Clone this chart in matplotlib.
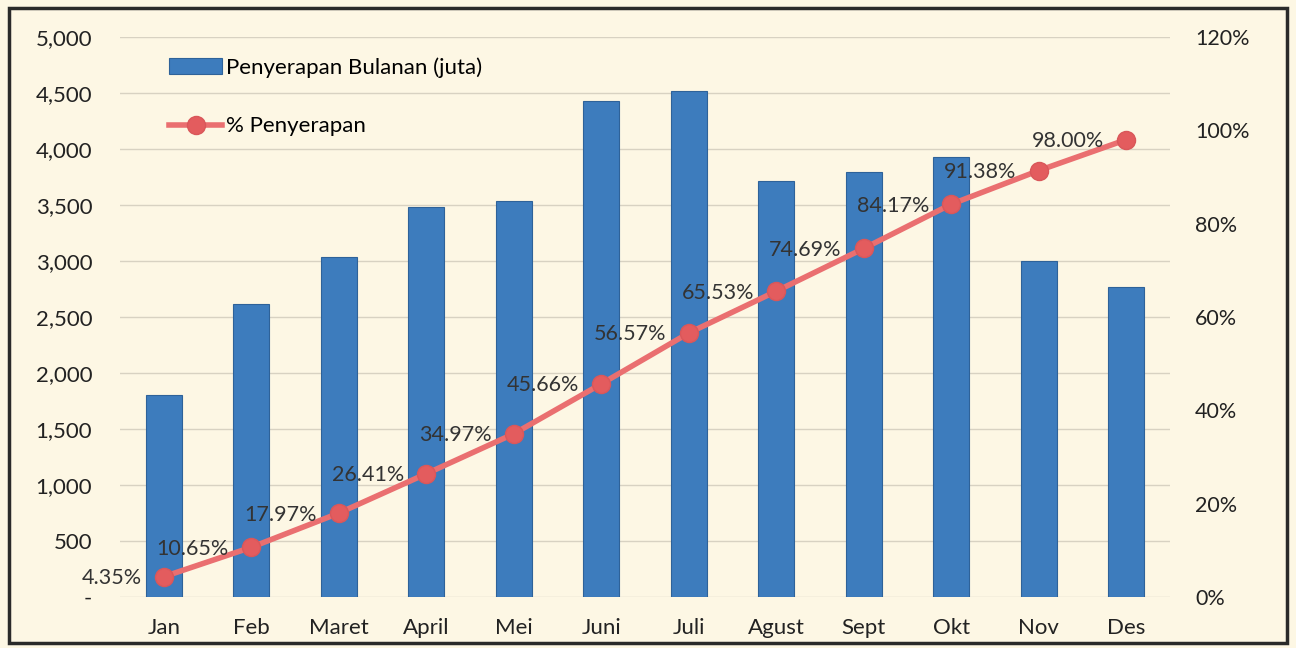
import matplotlib
matplotlib.use("Agg")
import matplotlib.pyplot as plt
from matplotlib.ticker import FuncFormatter
import numpy as np

months = ["Jan", "Feb", "Maret", "April", "Mei", "Juni", "Juli", "Agust", "Sept", "Okt", "Nov", "Des"]
monthly = [1805, 2615, 3035, 3480, 3535, 4425, 4515, 3715, 3795, 3930, 3000, 2765]
pct = [4.35, 10.65, 17.97, 26.41, 34.97, 45.66, 56.57, 65.53, 74.69, 84.17, 91.38, 98.00]
left_ticks = list(range(0, 5001, 500))
right_ticks = [0, 20, 40, 60, 80, 100, 120]

plt.rcParams['font.family'] = ['Lato', 'DejaVu Sans']
bg = "#fdf7e4"
fig = plt.figure(figsize=(12.96, 6.48), dpi=100, facecolor=bg)
ax = fig.add_axes([0.0926, 0.0787, 0.8102, 0.8642])
ax.set_facecolor(bg)
x = np.arange(len(months))
bars = ax.bar(x, monthly, width=0.41, color="#3d7cbd", edgecolor="#2e6299", linewidth=0.8,
              label="Penyerapan Bulanan (juta)", zorder=2)
ax.set_xlim(-0.5, len(months) - 0.5)
ax.set_ylim(0, 5000)
ax.set_yticks(left_ticks)
ax.yaxis.set_major_formatter(FuncFormatter(lambda v, p: "-" if v == 0 else f"{int(v):,}"))
ax.set_xticks(x)
ax.set_xticklabels(months)
ax.grid(axis='y', color="#d8d2c2", linewidth=1.0, zorder=0)
ax.set_axisbelow(True)
for s in ax.spines.values():
    s.set_visible(False)
ax.tick_params(axis='both', length=0, labelsize=16, colors="#222222")
ax.tick_params(axis='y', pad=20)
ax.tick_params(axis='x', pad=15)

ax2 = ax.twinx()
ax2.set_ylim(0, 120)
ax2.set_yticks(right_ticks)
ax2.yaxis.set_major_formatter(FuncFormatter(lambda v, p: f"{int(v)}%"))
for s in ax2.spines.values():
    s.set_visible(False)
ax2.tick_params(axis='y', length=0, labelsize=15.5, colors="#222222", pad=18)
line, = ax2.plot(x, pct, color="#ea6f70", linewidth=4, marker="o", markersize=13,
                 markerfacecolor="#e35c5e", markeredgecolor="#d9575a", markeredgewidth=1,
                 label="% Penyerapan", zorder=3)
for xi, p in zip(x, pct):
    ax2.annotate(f"{p:.2f}%", (xi, p), xytext=(-16, -1), textcoords="offset points",
                 ha="right", va="center", fontsize=15.5, color="#333333", zorder=4)

leg = ax.legend([bars, line], ["Penyerapan Bulanan (juta)", "% Penyerapan"],
                loc="upper left", bbox_to_anchor=(0.028, 1.0), frameon=False,
                fontsize=16, labelspacing=1.75, handlelength=2.35, handletextpad=0.2)

# outer frame
fig.patches.append(plt.Rectangle((0.007, 0.008), 0.986, 0.98, transform=fig.transFigure,
                                 fill=False, edgecolor="#2a2a2a", linewidth=2.5))
fig.savefig("out.png", dpi=100, facecolor=bg)
